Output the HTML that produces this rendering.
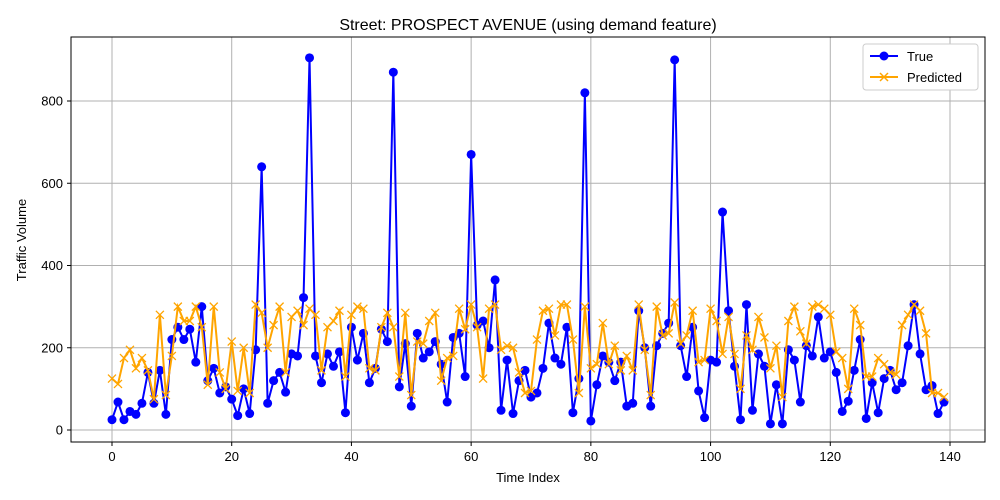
<!DOCTYPE html>
<html><head><meta charset="utf-8"><style>
body{margin:0;background:#fff}
svg{display:block;font-family:"Liberation Sans","DejaVu Sans",sans-serif}
</style></head><body>
<svg id="chart" width="1000" height="500" xmlns="http://www.w3.org/2000/svg">
<rect width="1000" height="500" fill="#fff"/>
<text x="528" y="30" font-size="16" text-anchor="middle">Street: PROSPECT AVENUE (using demand feature)</text>
<g id="grid"></g>
<g id="series"></g>
<rect x="71" y="37" width="914" height="405" fill="none" stroke="#000" stroke-width="1"/>
<g id="axes"></g>
<text x="528" y="482" font-size="13" text-anchor="middle">Time Index</text>
<text x="26" y="240" font-size="13" text-anchor="middle" transform="rotate(-90 26 240)">Traffic Volume</text>
<g>
<rect x="863" y="44" width="115" height="46" fill="#fff" stroke="#ccc" rx="3"/>
<line x1="870" y1="56" x2="898" y2="56" stroke="blue" stroke-width="2"/>
<circle cx="884" cy="56" r="4.5" fill="blue"/>
<text x="907" y="61" font-size="13">True</text>
<line x1="870" y1="77" x2="898" y2="77" stroke="orange" stroke-width="2"/>
<path d="M880 73 L888 81 M888 73 L880 81" stroke="orange" stroke-width="1.5"/>
<text x="907" y="82" font-size="13">Predicted</text>
</g>
</svg>
<script>
const trueVals=[25,68,25,45,38,65,140,65,145,38,220,250,220,245,165,300,120,150,90,105,75,35,100,40,195,640,65,120,140,92,185,180,322,905,180,115,185,155,190,42,250,170,235,115,150,245,215,870,105,210,58,235,175,190,215,160,68,225,235,130,670,255,265,200,365,48,170,40,120,145,80,90,150,260,175,160,250,42,125,820,22,110,180,165,120,165,58,65,290,200,58,205,235,260,900,205,130,250,95,30,170,165,530,290,155,25,305,48,185,155,15,110,15,195,170,68,205,180,275,175,190,140,45,70,145,220,28,115,42,125,145,98,115,205,305,185,98,108,40,68];
const predVals=[125,112,175,195,150,175,145,75,280,85,180,300,265,265,300,250,110,300,140,100,215,95,200,90,305,285,200,255,300,140,275,290,255,295,280,145,250,265,290,130,280,300,295,150,145,250,285,250,130,285,85,215,210,265,285,120,175,180,295,245,305,250,125,295,305,195,205,200,140,90,95,220,290,295,230,305,305,220,90,300,150,160,260,160,205,145,180,145,305,195,85,300,230,235,310,210,230,290,165,170,295,265,185,275,185,100,230,195,275,225,150,205,80,265,300,240,210,300,305,295,280,190,175,100,295,255,130,130,175,160,140,135,255,280,305,290,235,90,90,80];
const xTicks=[0,20,40,60,80,100,120,140];
const yTicks=[0,200,400,600,800];
const NS="http://www.w3.org/2000/svg";
const X=v=>112+v*(950-112)/140;
const Y=v=>430-v*(430-101)/800;
function mk(tag,attrs,parent){const e=document.createElementNS(NS,tag);for(const k in attrs)e.setAttribute(k,attrs[k]);parent.appendChild(e);return e;}
const grid=document.getElementById('grid'),axes=document.getElementById('axes'),series=document.getElementById('series');
xTicks.forEach(t=>{
  const g=mk('line',{x1:X(t),x2:X(t),y1:37,y2:442,stroke:'#b0b0b0','stroke-width':1},grid);
  
  
  mk('line',{x1:X(t),x2:X(t),y1:442,y2:446,stroke:'#000'},axes);
  const l=mk('text',{x:X(t),y:461,'font-size':13,'text-anchor':'middle'},axes);
  l.textContent=t;
  
  
});
yTicks.forEach(t=>{
  const g=mk('line',{x1:71,x2:985,y1:Y(t),y2:Y(t),stroke:'#b0b0b0','stroke-width':1},grid);
  
  
  mk('line',{x1:67,x2:71,y1:Y(t),y2:Y(t),stroke:'#000'},axes);
  const l=mk('text',{x:63,y:Y(t)+4.5,'font-size':13,'text-anchor':'end'},axes);
  l.textContent=t;
  
  
});
const tp=mk('polyline',{points:trueVals.map((v,i)=>X(i)+','+Y(v)).join(' '),fill:'none',stroke:'blue','stroke-width':2},series);


trueVals.forEach((v,i)=>{
  const c=mk('circle',{cx:X(i),cy:Y(v),r:4.5,fill:'blue'},series);
  
  
});
const pp=mk('polyline',{points:predVals.map((v,i)=>X(i)+','+Y(v)).join(' '),fill:'none',stroke:'orange','stroke-width':2},series);


predVals.forEach((v,i)=>{
  const x=X(i),y=Y(v);
  const m=mk('path',{d:`M${x-4} ${y-4}L${x+4} ${y+4}M${x+4} ${y-4}L${x-4} ${y+4}`,stroke:'orange','stroke-width':1.3},series);
  
  
});
</script>
</body></html>
